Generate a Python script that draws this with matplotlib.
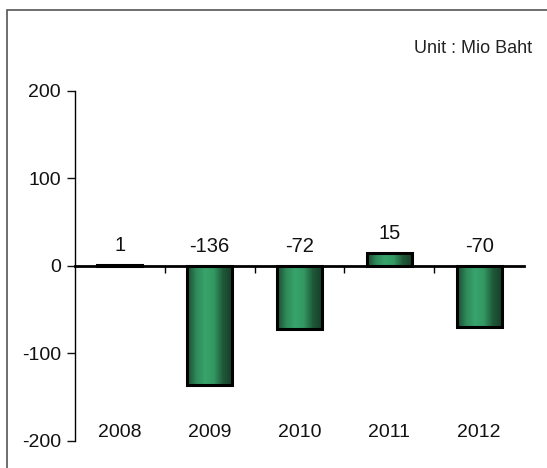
import numpy as np
import matplotlib
matplotlib.use("Agg")
import matplotlib.pyplot as plt
from matplotlib.patches import Rectangle
from matplotlib.colors import LinearSegmentedColormap

years = ["2008", "2009", "2010", "2011", "2012"]
values = [1, -136, -72, 15, -70]
unit_label = "Unit : Mio Baht"

plt.rcParams['font.family'] = ['Liberation Sans', 'DejaVu Sans']
plt.rcParams['axes.unicode_minus'] = False

fig = plt.figure(figsize=(5.47, 4.68), dpi=100)
ax = fig.add_axes([0.137, 0.058, 0.821, 0.748])

# outer frame of the chart area
fig.patches.append(Rectangle((7/547, -0.1), 1.2, 1 - 10/468 + 0.1, transform=fig.transFigure,
                             fill=False, edgecolor='#555555', linewidth=1.2))

# bars with a horizontal green gradient
shade = LinearSegmentedColormap.from_list("bar", ["#1b4a31", "#2f8a5a", "#38a36c", "#339862", "#1f5a3a", "#173f2a"])
grad = np.linspace(0, 1, 64).reshape(1, -1)
width = 0.5
x = np.arange(len(years))
for xi, v in zip(x, values):
    y0, y1 = min(0, v), max(0, v)
    ax.imshow(grad, cmap=shade, aspect='auto', extent=(xi - width/2, xi + width/2, y0, y1),
              interpolation='bilinear', zorder=2)
    ax.add_patch(Rectangle((xi - width/2, y0), width, abs(v), fill=False,
                           edgecolor='black', linewidth=2.2, zorder=3))
    ax.text(xi, max(v, 0) + 16, str(v), ha='center', va='baseline', fontsize=14.5, color='#111111')
    ax.text(xi, -191, years[xi], ha='center', va='center', fontsize=14, color='#111111')

ax.set_xlim(-0.5, len(years) - 0.5)
ax.set_ylim(-200, 200)
ax.set_yticks([-200, -100, 0, 100, 200])
ax.tick_params(axis='y', direction='out', length=6, width=1, labelsize=14, pad=4, colors='#111111')

ax.spines['top'].set_visible(False)
ax.spines['right'].set_visible(False)
ax.spines['left'].set_linewidth(1)
ax.spines['bottom'].set_position(('data', 0))
ax.spines['bottom'].set_linewidth(2)
ax.spines['bottom'].set_zorder(4)
ax.set_xticks(np.arange(0.5, len(years) - 1, 1))
ax.tick_params(axis='x', direction='out', length=5, width=1, labelbottom=False)

fig.text(0.973, 0.897, unit_label, ha='right', va='center', fontsize=13, color='#222222')

fig.savefig("out.png", dpi=100)
